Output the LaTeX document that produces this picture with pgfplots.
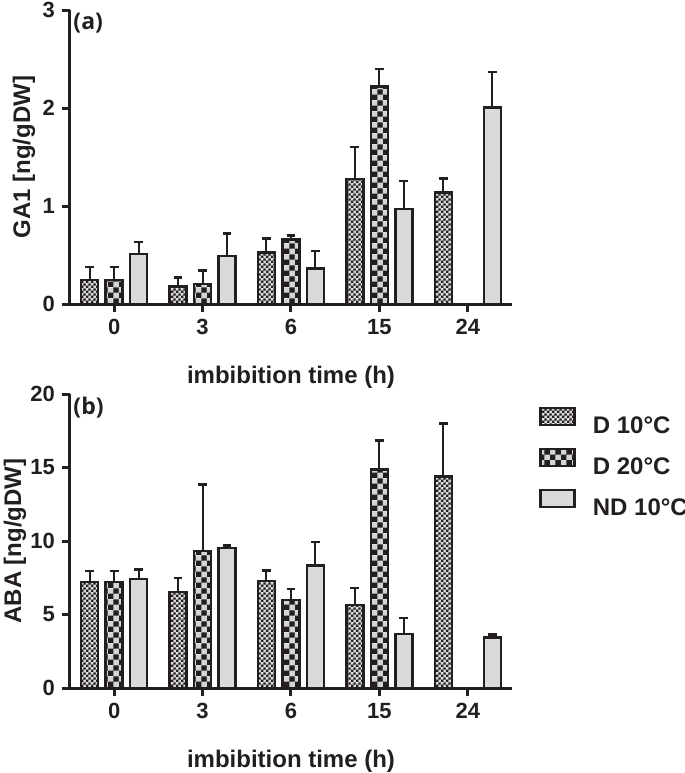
\documentclass[border=0pt]{standalone}
\usepackage{fontspec}
\setmainfont{Liberation Sans}
\newfontfamily\panelfont{Open Sans}
\usepackage{pgfplots}
\pgfplotsset{compat=1.18}
\usetikzlibrary{patterns}

\definecolor{ink}{HTML}{231F20}
\definecolor{ndgray}{HTML}{D9DADB}
\definecolor{chklight}{HTML}{D4D5D6}
\definecolor{finelight}{HTML}{D8D8D8}

\pgfdeclarepatterninherentlycolored{bigcheck}{\pgfpointorigin}{\pgfqpoint{5.4pt}{5.4pt}}{\pgfqpoint{5.4pt}{5.4pt}}{%
  \pgfsetfillcolor{chklight}%
  \pgfpathrectangle{\pgfpointorigin}{\pgfqpoint{5.4pt}{5.4pt}}\pgfusepath{fill}%
  \pgfsetfillcolor{ink}%
  \pgfpathrectangle{\pgfpointorigin}{\pgfqpoint{2.7pt}{2.7pt}}%
  \pgfpathrectangle{\pgfqpoint{2.7pt}{2.7pt}}{\pgfqpoint{2.7pt}{2.7pt}}\pgfusepath{fill}}

\pgfdeclarepatterninherentlycolored{smallcheck}{\pgfpointorigin}{\pgfqpoint{2.4pt}{2.4pt}}{\pgfqpoint{2.4pt}{2.4pt}}{%
  \pgfsetfillcolor{finelight}%
  \pgfpathrectangle{\pgfpointorigin}{\pgfqpoint{2.4pt}{2.4pt}}\pgfusepath{fill}%
  \pgfsetfillcolor{ink}%
  \pgfpathrectangle{\pgfpointorigin}{\pgfqpoint{1.2pt}{1.2pt}}%
  \pgfpathrectangle{\pgfqpoint{1.2pt}{1.2pt}}{\pgfqpoint{1.2pt}{1.2pt}}\pgfusepath{fill}}

\tikzset{
  panellabel/.style={anchor=north west, inner sep=0pt, text=ink,
    font=\panelfont\bfseries\fontsize{11.5}{13}\selectfont},
}

\pgfplotsset{
  panel/.style={
    scale only axis, width=221pt, height=147pt,
    axis lines*=left, axis line style={ink, line width=1.5pt},
    xmin=-0.5, xmax=4.5, xtick={0,1,2,3,4}, xticklabels={0,3,6,15,24},
    major tick length=4pt, tick style={ink, line width=1.5pt},
    tick align=outside,
    ybar=3.75pt, bar width=8.5pt,
    /pgf/number format/assume math mode=true,
    tick label style={font=\bfseries\fontsize{11}{13}\selectfont, text=ink},
    label style={font=\bfseries\fontsize{12}{14}\selectfont, text=ink},
    xlabel={imbibition time (h)},
    xlabel style={at={(axis description cs:0.5,0)}, anchor=base, yshift=-39.5pt},
    clip=false,
    legend image code/.code={\draw[##1] (0pt,0pt) rectangle (17pt,8.5pt);},
  },
  errs/.style={error bars/.cd, y dir=plus, y explicit,
    error bar style={ink, line width=1pt},
    error mark options={rotate=90, mark size=2.2pt, line width=1.2pt, ink}},
  d10/.style={draw=ink, line width=1.25pt, pattern=smallcheck, errs},
  d20/.style={draw=ink, line width=1.25pt, pattern=bigcheck, errs},
  nd/.style={draw=ink, line width=1.25pt, fill=ndgray, errs},
}

\begin{document}
\begin{tikzpicture}
\path[use as bounding box] (-35pt,-42.5pt) rectangle (307.5pt,344pt);

% ---------- (a) GA1 ----------
\begin{axis}[panel, at={(0pt,192pt)}, anchor=south west,
  ymin=0, ymax=3, ytick={0,1,2,3},
  ylabel={GA1 [ng/gDW]},
  ylabel style={at={(axis description cs:-0.104,0.5)}, anchor=center}]
\addplot[d10] coordinates {(0,0.245) +- (0,0.135) (1,0.177) +- (0,0.093) (2,0.527) +- (0,0.143) (3,1.275) +- (0,0.325) (4,1.136) +- (0,0.144)};
\addplot[d20] coordinates {(0,0.245) +- (0,0.135) (1,0.204) +- (0,0.136) (2,0.66) +- (0,0.04) (3,2.22) +- (0,0.18)};
\addplot[nd] coordinates {(0,0.51) +- (0,0.12) (1,0.49) +- (0,0.23) (2,0.364) +- (0,0.176) (3,0.97) +- (0,0.285) (4,2.003) +- (0,0.367)};
\node[panellabel] at (axis description cs:0.007,0.99) {(a)};
\end{axis}

% ---------- (b) ABA ----------
\begin{axis}[panel, at={(0pt,0pt)}, anchor=south west,
  ymin=0, ymax=20, ytick={0,5,10,15,20},
  ylabel={ABA [ng/gDW]},
  ylabel style={at={(axis description cs:-0.1244,0.5)}, anchor=center},
  legend style={at={(axis description cs:1.0611,0.9583)}, anchor=north west,
    draw=none, fill=none, inner sep=0pt, row sep=7.05pt, column sep=8.5pt,
    font=\bfseries\fontsize{12}{14}\selectfont, text=ink,
    nodes={inner sep=0pt, text height=8.6pt, text depth=0pt}},
  legend cell align=left]
\addplot[d10] coordinates {(0,7.2) +- (0,0.75) (1,6.52) +- (0,0.95) (2,7.27) +- (0,0.73) (3,5.66) +- (0,1.16) (4,14.4) +- (0,3.6)};
\addplot[d20] coordinates {(0,7.2) +- (0,0.75) (1,9.31) +- (0,4.53) (2,6.0) +- (0,0.75) (3,14.86) +- (0,1.99)};
\addplot[nd] coordinates {(0,7.43) +- (0,0.63) (1,9.54) +- (0,0.15) (2,8.34) +- (0,1.58) (3,3.69) +- (0,1.06) (4,3.42) +- (0,0.23)};
\legend{D 10°C, D 20°C, ND 10°C}
\node[panellabel] at (axis description cs:0.007,0.99) {(b)};
\end{axis}
\end{tikzpicture}
\end{document}
